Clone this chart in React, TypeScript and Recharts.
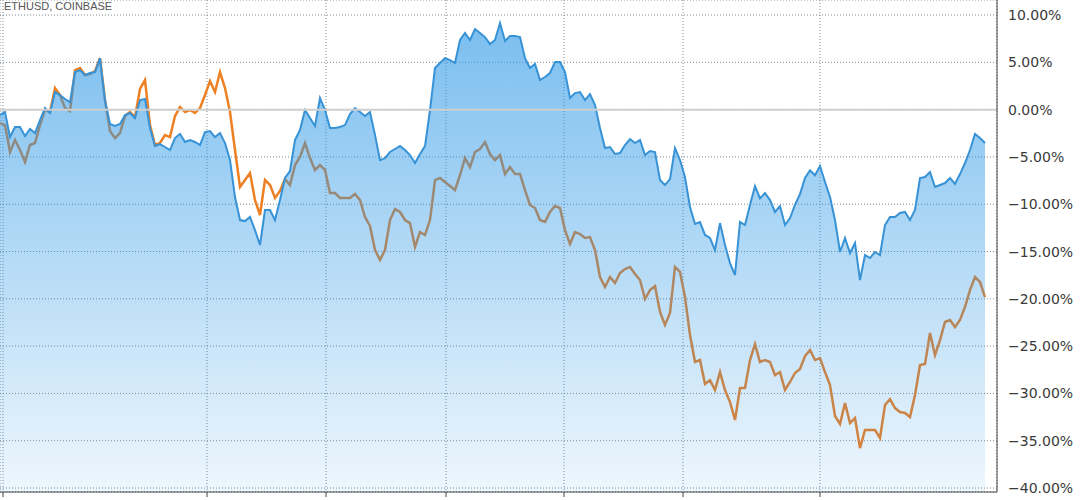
import { ComposedChart, Area, XAxis, YAxis, CartesianGrid, ReferenceLine } from "recharts"

// % change, one reading every trading step, left to right
const ethChange = [
  -0.57, -0.25, -2.9, -1.84, -1.84, -2.79, -2.05, -2.47, -1.1, 0.17,
  -0.36, 1.86, 1.54, 1.12, 0.8, 3.97, 4.18, 3.66, 3.87, 3.97,
  5.45, 1.01, -1.52, -1.73, -1.52, -0.57, -0.36, -0.89, 1.01, 1.12,
  -1.95, -3.85, -3.64, -3.95, -4.27, -3.0, -2.58, -3.42, -3.21, -3.42,
  -3.74, -2.37, -2.26, -2.9, -2.47, -3.53, -5.33, -9.24, -11.67, -11.78,
  -11.35, -12.73, -14.31, -10.61, -10.61, -11.67, -9.56, -7.23, -6.49, -3.21,
  -2.16, -0.04, -0.89, -1.73, 1.23, -0.04, -1.95, -1.95, -1.84, -1.63,
  -0.47, 0.17, -0.25, -0.68, -0.25, -2.68, -5.33, -5.12, -4.48, -4.16,
  -3.85, -4.27, -4.8, -5.64, -4.69, -3.85, -0.04, 4.4, 4.93, 5.45,
  5.24, 4.93, 7.36, 8.1, 7.36, 8.52, 8.1, 7.67, 6.93, 7.36,
  9.15, 7.25, 7.78, 7.78, 7.67, 5.45, 4.4, 4.82, 3.13, 3.45,
  3.87, 5.03, 5.03, 3.97, 1.23, 1.75, 1.86, 1.01, 1.65, 0.49,
  -1.95, -4.06, -3.95, -4.69, -4.59, -3.74, -3.11, -3.53, -3.21, -4.8,
  -4.38, -4.48, -7.44, -7.97, -7.34, -4.06, -5.33, -7.12, -10.3, -12.09,
  -11.88, -13.25, -13.57, -14.84, -11.99, -14.31, -16.22, -17.48, -11.88, -12.2,
  -10.08, -8.08, -9.39, -8.82, -9.56, -10.82, -10.19, -12.2, -11.46, -10.08,
  -8.92, -7.23, -6.41, -6.94, -5.96, -7.65, -9.24, -11.67, -15.05, -13.57,
  -15.16, -14.1, -18.01, -15.37, -15.69, -15.05, -15.37, -12.2, -11.35, -11.35,
  -10.93, -10.82, -11.67, -10.61, -7.23, -7.12, -6.6, -8.18, -7.97, -7.76,
  -7.23, -7.86, -6.81, -5.64, -4.27, -2.58, -3.0, -3.53,
]

const compareChange = [
  -1.42, -1.63, -4.48, -3.21, -4.27, -5.54, -3.74, -3.53, -1.63, -0.04,
  -0.25, 2.28, 1.54, 0.17, -0.15, 4.18, 4.4, 3.66, 3.76, 4.08,
  5.45, 1.01, -2.26, -3.0, -2.47, -0.68, -0.25, -0.78, 2.18, 3.13,
  -1.63, -3.74, -3.53, -2.68, -2.9, -0.68, 0.27, -0.25, -0.04, -0.36,
  0.17, 1.54, 3.02, 1.86, 3.97, 2.28, -0.25, -4.27, -8.18, -7.44,
  -6.7, -9.56, -11.14, -7.44, -7.97, -9.34, -8.6, -7.34, -7.97, -5.86,
  -5.01, -3.53, -5.12, -6.38, -5.86, -6.38, -8.82, -8.82, -9.34, -9.34,
  -9.34, -8.92, -9.56, -11.35, -12.3, -14.84, -15.9, -14.84, -11.67, -10.51,
  -10.82, -11.67, -11.99, -14.52, -12.94, -13.25, -11.67, -7.44, -7.23, -7.65,
  -8.08, -8.5, -6.91, -5.12, -6.07, -4.48, -4.16, -3.42, -4.69, -5.33,
  -4.8, -6.81, -6.07, -6.81, -6.81, -8.5, -10.08, -10.4, -11.67, -11.88,
  -10.82, -10.19, -10.4, -12.73, -14.21, -12.94, -13.15, -13.57, -13.47, -14.84,
  -17.69, -18.75, -17.69, -18.33, -17.27, -16.85, -16.63, -17.38, -18.01, -20.02,
  -19.07, -18.65, -21.39, -22.76, -21.5, -16.63, -17.16, -19.81, -23.83, -26.68,
  -26.47, -29.01, -28.59, -29.64, -27.74, -29.64, -30.91, -32.81, -29.43, -29.43,
  -26.47, -24.78, -26.68, -26.47, -26.68, -28.06, -27.74, -29.64, -28.79, -27.84,
  -27.42, -26.05, -25.41, -26.47, -26.26, -27.74, -29.11, -32.39, -33.23, -31.01,
  -33.13, -32.6, -35.78, -33.87, -33.87, -33.87, -34.71, -31.23, -30.6, -31.55,
  -31.97, -32.07, -32.49, -30.16, -26.99, -26.89, -23.61, -25.94, -24.36, -22.45,
  -22.24, -22.98, -22.24, -20.86, -19.07, -17.69, -18.22, -19.81,
]

// period boundaries on the time axis (in steps)
const periodTicks = [0.6, 41.4, 65.2, 89.2, 112.8, 136.6, 164]
const pctTicks = [10, 5, 0, -5, -10, -15, -20, -25, -30, -35, -40]

const data = ethChange.map((v, i) => ({ i, eth: v, cmp: compareChange[i] }))

const fmtPct = (v: number) => (v < 0 ? "\u2212" : "") + Math.abs(v).toFixed(2) + "%"

export default function App() {
  return (
    <div style={{ position: "absolute", left: 0, top: 0, width: 1080, height: 500, background: "#fff", overflow: "hidden" }}>
      <div
        style={{
          position: "absolute",
          left: 4,
          top: 0,
          fontFamily: "'Liberation Sans', Arial, sans-serif",
          fontSize: 11,
          lineHeight: "13px",
          color: "#555",
          zIndex: 2,
        }}
      >
        ETHUSD, COINBASE
      </div>
      <ComposedChart width={1080} height={500} data={data} margin={{ top: 0, right: 0, bottom: 0, left: 0 }}>
        <defs>
          <linearGradient id="ethFill" x1="0" y1="0" x2="0" y2="1">
            <stop offset="0%" stopColor="#2996e6" stopOpacity={0.62} />
            <stop offset="100%" stopColor="#2996e6" stopOpacity={0.08} />
          </linearGradient>
        </defs>
        <CartesianGrid stroke="#7d8b97" strokeDasharray="1 2" />
        <XAxis
          dataKey="i"
          type="number"
          domain={[0, 199.4]}
          ticks={periodTicks}
          height={8}
          tickSize={5}
          tickFormatter={() => ""}
          axisLine={{ stroke: "#444" }}
          tickLine={{ stroke: "#444" }}
          allowDataOverflow
        />
        <YAxis
          orientation="right"
          width={83}
          domain={[-40.42, 11.59]}
          ticks={pctTicks}
          tickFormatter={fmtPct}
          tickLine={false}
          tickSize={8}
          tickMargin={3}
          axisLine={{ stroke: "#444" }}
          tick={{ fontSize: 14, fill: "#3a3a3a", fontFamily: "'DejaVu Sans', Verdana, sans-serif", textAnchor: "start" }}
          allowDataOverflow
        />
        <ReferenceLine y={0} stroke="#cfcfcf" strokeWidth={2} />
        {/* comparison symbol drawn first so the ETH fill tints it */}
        <Area
          dataKey="cmp"
          type="linear"
          stroke="#ee8024"
          strokeWidth={2.5}
          fill="none"
          dot={false}
          activeDot={false}
          isAnimationActive={false}
        />
        <Area
          dataKey="eth"
          type="linear"
          stroke="#3792d6"
          strokeWidth={2}
          fill="url(#ethFill)"
          fillOpacity={1}
          baseValue={-40.42}
          dot={false}
          activeDot={false}
          isAnimationActive={false}
        />
      </ComposedChart>
    </div>
  )
}
